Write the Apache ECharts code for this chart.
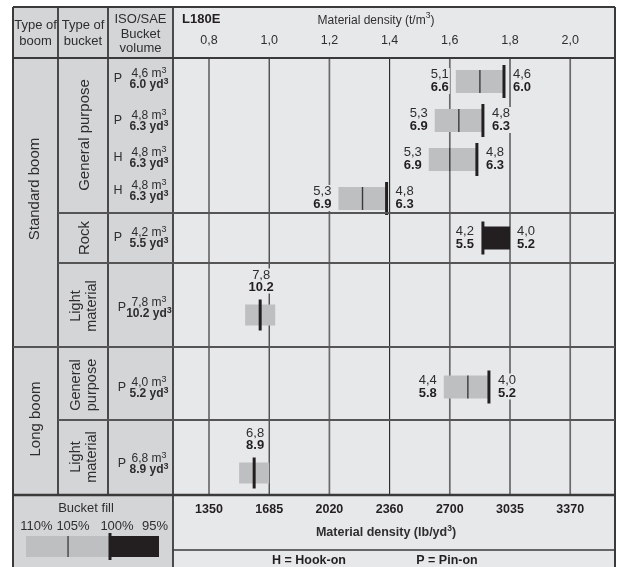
<!DOCTYPE html>
<html><head><meta charset="utf-8">
<script src="https://cdn.jsdelivr.net/npm/echarts@6/dist/echarts.min.js"></script>
<style>html,body{margin:0;padding:0;background:#fff}#c{width:624px;height:567px}</style>
</head><body><div id="c"></div>
<script>
// ---------------- data ----------------
const densityTicks = [0.8, 1.0, 1.2, 1.4, 1.6, 1.8, 2.0];              // t/m3
const lbTicks = ['1350', '1685', '2020', '2360', '2700', '3035', '3370'];  // lb/yd3
const machine = 'L180E';
const boomTypes = ['Standard boom', 'Long boom'];
const bucketTypes = [['General purpose'], ['Rock'], ['Light', 'material'], ['General', 'purpose'], ['Light', 'material']];
const rowSection = [0, 0, 0, 0, 1, 2, 3, 4];
const mountType = ['P', 'P', 'H', 'H', 'P', 'P', 'P', 'P'];
const volM3 = ['4,6', '4,8', '4,8', '4,8', '4,2', '7,8', '4,0', '6,8'];
const volYd3 = ['6.0', '6.3', '6.3', '6.3', '5.5', '10.2', '5.2', '8.9'];
const barKind = ['range', 'range', 'range', 'range', 'heavy', 'light', 'range', 'light'];
const fill110 = [1.62, 1.55, 1.53, 1.23, null, null, 1.58, null];
const fill105 = [1.70, 1.63, 1.60, 1.31, null, 0.92, 1.66, 0.90];
const fill100 = [1.78, 1.71, 1.69, 1.39, 1.71, 0.97, 1.73, 0.95];
const fill95  = [null, null, null, null, 1.80, 1.02, null, 1.00];
const lowM3  = ['5,1', '5,3', '5,3', '5,3', '4,2', '7,8', '4,4', '6,8'];
const lowYd3 = ['6.6', '6.9', '6.9', '6.9', '5.5', '10.2', '5.8', '8.9'];
const highM3  = ['4,6', '4,8', '4,8', '4,8', '4,0', null, '4,0', null];
const highYd3 = ['6.0', '6.3', '6.3', '6.3', '5.2', null, '5.2', null];
const fillLegend = ['110%', '105%', '100%', '95%'];
const mountLegend = ['H = Hook-on', 'P = Pin-on'];

// ---------------- layout / style ----------------
const FF = '"Liberation Sans", Arial, Helvetica, sans-serif';
const INK = '#231f20', TXT = '#2e2e2e';
const BG_DARK = '#d4d5d7', BG_LIGHT = '#e7e8ea', BAR_GRAY = '#bebfc1';
const L = 13, R = 615, T = 7, B = 567;
const C1 = 58, C2 = 108, X0 = 173;
const HEAD = 58, FOOT = 495, FOOT2 = 550;
const xMin = 0.6804, xMax = 2.1488;
const secTop = [62, 213, 273, 367, 453];
const secH = [156, 50, 84, 40, 40];
const secLines = [[213, C1], [263, C1], [347, L], [420, C1]];
const bucketTextPos = [[85, 135], [85, 238], [84, 306], [84, 385], [84, 457]];
const boomTextPos = [[35, 189], [36, 419]];
const rowTextY = [78, 120, 157, 190, 237, 307, 387, 463];

// ---------------- graphics for table frame ----------------
const g = [];
function rect(x, y, w, h, fill, z) { g.push({type: 'rect', z: z, shape: {x, y, width: w, height: h}, style: {fill}}); }
function line(x1, y1, x2, y2, w, c) { g.push({type: 'line', z: 50, shape: {x1, y1, x2, y2}, style: {stroke: c || '#3a3a3a', lineWidth: w || 1.8}}); }
function text(t, x, y, o) {
  o = o || {};
  g.push({type: 'text', z: 60, x: x, y: y, rotation: o.rot || 0, style: Object.assign({
    text: t, fill: o.color || TXT, font: (o.weight || 'normal') + ' ' + (o.size || 12) + 'px ' + FF,
    align: o.align || 'center', textAlign: o.align || 'center',
    verticalAlign: 'middle', textVerticalAlign: 'middle', lineHeight: o.lh || 14
  }, o.rich ? {rich: o.rich} : {})});
}
rect(L, T, X0 - L, B - T, BG_DARK, -10);
rect(X0, T, R - X0, B - T, BG_LIGHT, -10);
// frame
line(L, T, R, T, 2); line(L, T, L, B, 2); line(R, T, R, B, 2);
line(L, HEAD, R, HEAD, 2);
line(C1, T, C1, FOOT, 1.8); line(C2, T, C2, FOOT, 1.8); line(X0, T, X0, B, 1.8);
secLines.forEach(s => line(s[1], s[0], R, s[0], 1.8, '#555'));
line(L, FOOT, R, FOOT, 2.4);
line(X0, FOOT2, R, FOOT2, 1.6);
// header texts
text('Type of\nboom', 35.5, 33, {size: 13, lh: 16});
text('Type of\nbucket', 83, 33, {size: 13, lh: 16});
text('ISO/SAE\nBucket\nvolume', 140.5, 34, {size: 13, lh: 14.5});
text(machine, 182, 19.5, {weight: 'bold', size: 13, align: 'left', color: INK});
const supRich = {
  n: {fontSize: 12, fontFamily: FF, color: TXT, lineHeight: 15, verticalAlign: 'bottom'},
  s: {fontSize: 8.5, fontFamily: FF, color: TXT, lineHeight: 10, verticalAlign: 'top'},
  nb: {fontSize: 12.5, fontFamily: FF, fontWeight: 'bold', color: INK, lineHeight: 15, verticalAlign: 'bottom'},
  sb: {fontSize: 8.5, fontFamily: FF, fontWeight: 'bold', color: INK, lineHeight: 10, verticalAlign: 'top'}
};
text('{n|Material density (t/m}{s|3}{n|)}', 376, 19, {rich: supRich});
text('{nb|Material density (lb/yd}{sb|3}{nb|)}', 386, 532, {rich: supRich});
// boom / bucket type labels
boomTypes.forEach((t, i) => text(t, boomTextPos[i][0], boomTextPos[i][1], {size: 15, rot: Math.PI / 2}));
bucketTypes.forEach((t, i) => {
  const p = bucketTextPos[i];
  if (t.length === 1) text(t[0], p[0], p[1], {size: 15, rot: Math.PI / 2});
  else text(t.join('\n'), p[0], p[1], {size: 14.5, lh: 15.5, rot: Math.PI / 2});
});
// bucket volume column
const volRich = {
  n: {fontSize: 12, fontFamily: FF, color: TXT, lineHeight: 13, verticalAlign: 'bottom'},
  s: {fontSize: 9, fontFamily: FF, color: TXT, lineHeight: 9, verticalAlign: 'top'},
  b: {fontSize: 12, fontFamily: FF, fontWeight: 'bold', color: INK, lineHeight: 13, verticalAlign: 'bottom'},
  sb: {fontSize: 9, fontFamily: FF, fontWeight: 'bold', color: INK, lineHeight: 9, verticalAlign: 'top'}
};
mountType.forEach((m, r) => {
  const y = rowTextY[r];
  const px = barKind[r] === 'range' && rowSection[r] === 0 || barKind[r] === 'heavy' ? 118 : 122;
  text(m, px, y + 1, {size: 12.5});
  text('{n|' + volM3[r] + ' m}{s|3}', 149, y - 5, {rich: volRich});
  text('{b|' + volYd3[r] + ' yd}{sb|3}', 149, y + 6, {rich: volRich});
});
// footer legend
text('Bucket fill', 86, 508, {size: 13});
const pctX = [36.5, 73, 117, 155];
fillLegend.forEach((t, i) => text(t, pctX[i], 526, {size: 13}));
const legX = [26, 68, 110, 159];
rect(legX[0], 536, legX[2] - legX[0], 21, BAR_GRAY, 40);
rect(legX[2], 536, legX[3] - legX[2], 21, INK, 40);
g.push({type: 'rect', z: 41, shape: {x: legX[1] - 0.6, y: 536, width: 1.3, height: 21}, style: {fill: '#3a3a3a'}});
g.push({type: 'rect', z: 41, shape: {x: legX[2] - 1.5, y: 533, width: 3, height: 27}, style: {fill: INK}});
text(mountLegend[0], 309, 561, {weight: 'bold', size: 12.5, color: INK});
text(mountLegend[1], 447, 561, {weight: 'bold', size: 12.5, color: INK});

// ---------------- axes / grids ----------------
const grids = [{left: X0, width: R - X0, top: HEAD, height: FOOT - HEAD}];
const xAxes = [
  {gridIndex: 0, type: 'value', min: xMin, max: xMax, position: 'top',
    axisLine: {show: false}, axisTick: {show: false}, splitLine: {show: false},
    axisLabel: {customValues: densityTicks, margin: 11, fontSize: 12.5, fontFamily: FF, color: TXT,
      formatter: v => v.toFixed(1).replace('.', ',')}},
  {gridIndex: 0, type: 'value', min: xMin, max: xMax, position: 'bottom',
    axisLine: {show: false}, axisTick: {show: false}, splitLine: {show: false},
    axisLabel: {customValues: densityTicks, margin: 8, fontSize: 12.5, fontWeight: 'bold', fontFamily: FF, color: INK,
      formatter: v => lbTicks[densityTicks.findIndex(t => Math.abs(t - v) < 1e-6)] || ''}}
];
const yAxes = [{gridIndex: 0, type: 'value', min: 0, max: 1, show: false}];
const series = [{
  type: 'custom', xAxisIndex: 0, yAxisIndex: 0, z: 2, silent: true, clip: false,
  data: densityTicks.map((d, i) => [d, i]),
  renderItem: (params, api) => {
    const d = api.value(0), i = api.value(1);
    const p0 = api.coord([d, 0]), p1 = api.coord([d, 1]);
    const major = i % 2 === 0;
    return {type: 'line', shape: {x1: p0[0], y1: p0[1], x2: p1[0], y2: p1[1]},
      style: {stroke: major ? '#6a6a6a' : '#222', lineWidth: major ? 1.7 : 1.1}};
  }
}];

function labelPair(top, bottom, x, yc, align, dyTop, dyBottom) {
  const base = {fill: TXT, align, textAlign: align, verticalAlign: 'middle', textVerticalAlign: 'middle',
    backgroundColor: BG_LIGHT, padding: [0, 1]};
  return [
    {type: 'text', z2: 10, style: Object.assign({}, base, {text: top, x, y: yc + dyTop, font: 'normal 13px ' + FF})},
    {type: 'text', z2: 10, style: Object.assign({}, base, {text: bottom, x, y: yc + dyBottom, fill: INK, font: 'bold 13px ' + FF})}
  ];
}

secTop.forEach((top, s) => {
  const rows = rowSection.map((sec, r) => sec === s ? r : -1).filter(r => r >= 0);
  grids.push({left: X0, width: R - X0, top: top, height: secH[s]});
  xAxes.push({gridIndex: s + 1, type: 'value', min: xMin, max: xMax, show: false});
  yAxes.push({gridIndex: s + 1, type: 'category', inverse: true, show: false, data: rows.map(String)});
  series.push({
    type: 'custom', xAxisIndex: s + 2, yAxisIndex: s + 1, z: 3, silent: true, clip: false,
    data: rows.map((r, k) => [fill100[r], k, r]),
    encode: {x: 0, y: 1},
    renderItem: (params, api) => {
      const k = api.value(1), r = api.value(2);
      const X = d => api.coord([d, k])[0];
      const yc = api.coord([fill100[r], k])[1];
      const kind = barKind[r];
      const ch = [];
      const bh = kind === 'light' ? 21 : 23, th = kind === 'light' ? 31 : 33;
      if (kind === 'range') {
        ch.push({type: 'rect', shape: {x: X(fill110[r]), y: yc - bh / 2, width: X(fill100[r]) - X(fill110[r]), height: bh}, style: {fill: BAR_GRAY}});
        ch.push({type: 'rect', shape: {x: X(fill105[r]) - 0.7, y: yc - bh / 2, width: 1.4, height: bh}, style: {fill: '#3a3a3a'}});
        ch.push(...labelPair(lowM3[r], lowYd3[r], X(fill110[r]) - 6, yc, 'right', -7, 6));
        ch.push(...labelPair(highM3[r], highYd3[r], X(fill100[r]) + 8, yc, 'left', -7, 6));
      } else if (kind === 'heavy') {
        ch.push({type: 'rect', shape: {x: X(fill100[r]), y: yc - bh / 2, width: X(fill95[r]) - X(fill100[r]), height: bh}, style: {fill: INK}});
        ch.push(...labelPair(lowM3[r], lowYd3[r], X(fill100[r]) - 8, yc, 'right', -7, 6));
        ch.push(...labelPair(highM3[r], highYd3[r], X(fill95[r]) + 6, yc, 'left', -7, 6));
      } else {
        ch.push({type: 'rect', shape: {x: X(fill105[r]), y: yc - bh / 2, width: X(fill95[r]) - X(fill105[r]), height: bh}, style: {fill: BAR_GRAY}});
        ch.push(...labelPair(lowM3[r], lowYd3[r], X(fill100[r]) + 1, yc, 'center', -40, -28));
      }
      ch.push({type: 'rect', shape: {x: X(fill100[r]) - 1.5, y: yc - th / 2, width: 3, height: th}, style: {fill: INK}});
      return {type: 'group', children: ch};
    }
  });
});

const chart = echarts.init(document.getElementById('c'), null, {renderer: 'canvas', width: 624, height: 567});
chart.setOption({
  backgroundColor: '#ffffff',
  animation: false,
  grid: grids, xAxis: xAxes, yAxis: yAxes, series: series,
  graphic: {elements: g}
});
</script></body></html>
